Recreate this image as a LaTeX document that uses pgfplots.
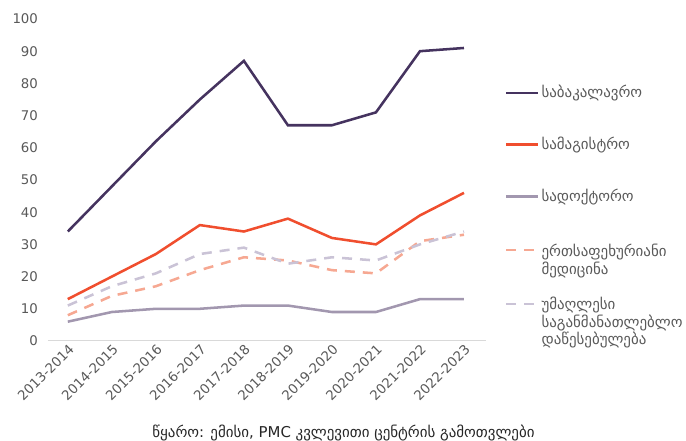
\documentclass[border=0pt]{standalone}
\usepackage{pgfplots}
\pgfplotsset{compat=1.18}
\usepackage{fontspec}
\setmainfont{DejaVu Sans}
\definecolor{cBach}{HTML}{45335F}
\definecolor{cMast}{HTML}{F04E2E}
\definecolor{cDoc}{HTML}{A297AF}
\definecolor{cMed}{HTML}{F6A892}
\definecolor{cInst}{HTML}{CAC3D6}
\definecolor{tickgray}{HTML}{595959}
\newcommand{\lent}[3]{\raisebox{0pt}[#1][#2]{\vtop{#3}}}
\begin{document}
\begin{tikzpicture}
\useasboundingbox (-36pt,-75pt) rectangle (478.5pt,255.75pt);
\begin{axis}[
  at={(0,0)}, anchor=south west,
  scale only axis, width=328.5pt, height=241.5pt,
  xmin=-0.45, xmax=9.5, ymin=0, ymax=100,
  xtick={0,...,9},
  xticklabels={2013-2014,2014-2015,2015-2016,2016-2017,2017-2018,2018-2019,2019-2020,2020-2021,2021-2022,2022-2023},
  ytick={0,10,...,100},
  axis x line*=bottom, axis y line*=left,
  y axis line style={draw=none},
  x axis line style={draw=black!15, line width=0.75pt},
  major tick length=0pt,
  tick label style={font=\fontsize{10}{12}\selectfont, text=tickgray},
  /pgf/number format/assume math mode=true,
  xticklabel style={rotate=45, anchor=north east, inner sep=1pt},
  yticklabel style={xshift=-4pt},
  every axis plot/.append style={line width=1.9pt, mark=none},
  legend image code/.code={\draw[#1, line width=1.9pt] (-1pt,0pt) -- (23pt,0pt);},
  legend cell align=left,
  legend style={draw=none, fill=none, anchor=north west, inner sep=0pt, outer sep=0pt,
    at={(axis description cs:1.0434,0.7982)},
    font=\fontsize{11.2}{12}\selectfont, text=tickgray, row sep=25.25pt, column sep=0pt,
    nodes={inner sep=1.5pt}},
]
\addplot[cBach] coordinates {(0,34) (1,48) (2,62) (3,75) (4,87) (5,67) (6,67) (7,71) (8,90) (9,91)};
\addlegendentry{\lent{9pt}{3pt}{\hbox{საბაკალავრო}}}
\addplot[cMast] coordinates {(0,13) (1,20) (2,27) (3,36) (4,34) (5,38) (6,32) (7,30) (8,39) (9,46)};
\addlegendentry{\lent{9pt}{3pt}{\hbox{სამაგისტრო}}}
\addplot[cDoc] coordinates {(0,6) (1,9) (2,10) (3,10) (4,11) (5,11) (6,9) (7,9) (8,13) (9,13)};
\addlegendentry{\lent{9pt}{3pt}{\hbox{სადოქტორო}}}
\addplot[cMed, dash pattern=on 7.5pt off 6pt] coordinates {(0,8) (1,14) (2,17) (3,22) (4,26) (5,25) (6,22) (7,21) (8,31) (9,33)};
\addlegendentry{\lent{12pt}{6pt}{\hbox{ერთსაფეხურიანი}\hbox{მედიცინა}}}
\addplot[cInst, dash pattern=on 7.5pt off 6pt] coordinates {(0,11) (1,17) (2,21) (3,27) (4,29) (5,24) (6,26) (7,25) (8,30) (9,34)};
\addlegendentry{\lent{9.75pt}{3.75pt}{\hbox{უმაღლესი}\hbox{საგანმანათლებლო}\hbox{დაწესებულება}}}
\end{axis}
\node[font=\fontsize{11.2}{13}\selectfont, text=black!85] at (221.6pt,-69pt) {წყარო: ემისი, PMC კვლევითი ცენტრის გამოთვლები};
\end{tikzpicture}
\end{document}
